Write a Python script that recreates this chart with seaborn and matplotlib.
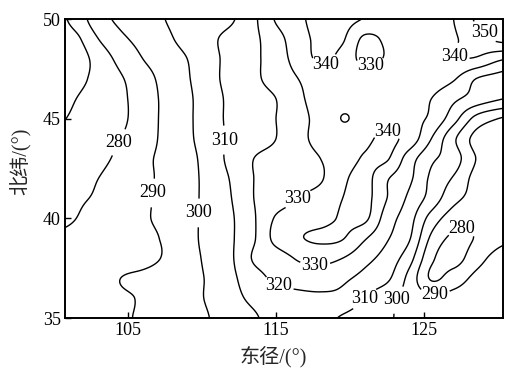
import numpy as np
import matplotlib
matplotlib.use("Agg")
import matplotlib.pyplot as plt
import seaborn as sns

# grid nodes of the field (degrees)
lon_nodes = [100.0, 101.5, 103.0, 104.5, 106.0, 107.5, 109.0, 110.5, 112.0, 113.5, 115.0,
             116.5, 118.0, 119.5, 121.0, 122.5, 124.0, 125.5, 127.0, 128.5, 130.0, 131.5]
lat_nodes = [35, 36, 37, 38, 39, 40, 41, 42, 43, 44, 45, 46, 47, 48, 49, 50]

# field values along each latitude, west to east
t35 = [285, 286, 287, 289, 291, 294, 297, 300, 305, 309, 313, 315, 313, 309, 305, 301, 298, 296, 295, 295, 296, 297]
t36 = [285, 286, 288, 289, 291, 296, 298, 301, 307, 312, 315, 317, 318, 317, 310, 303, 297, 292, 293, 294, 296, 297]
t37 = [284, 286, 287, 290, 292, 295, 298, 301, 308, 316, 322, 325, 325, 322, 317, 312, 297, 279, 285, 292, 295, 297]
t38 = [282, 283, 284, 286, 287, 291, 297, 302, 309, 321, 325, 331, 333, 330, 323, 316, 304, 282, 276, 286, 293, 295]
t39 = [281, 282, 283, 285, 288, 291, 297, 303, 309, 319, 333, 339, 341.5, 340.5, 331, 321, 311, 288, 278, 280.5, 287, 290]
t40 = [278, 280, 283, 286, 289, 292, 297, 303, 309, 319, 331, 335, 337, 341, 342, 325, 314, 296, 285, 283, 285, 286]
t41 = [277, 279, 281, 285, 288, 293, 297, 303, 310, 320, 325, 330, 334, 340, 343, 330, 318, 306, 293, 287, 285, 284]
t42 = [276, 278, 280, 284, 288, 292, 297, 303, 311, 320, 323, 326, 329, 338, 343, 331, 322, 308, 299, 287, 284, 283]
t43 = [273, 276, 278, 282, 288, 292, 297, 304, 313, 320, 323, 326, 330, 335, 341, 341, 325, 312, 305, 290, 284, 282]
t44 = [272, 274, 277, 280, 286, 292, 298, 305, 312, 316, 320, 327, 333, 336, 338, 342, 336, 320, 302, 287, 284, 282]
t45 = [268, 272, 275, 278, 285, 292, 298, 306, 312, 316, 320, 327, 333, 340.25, 337, 336, 333, 328, 314, 297, 290, 287]
t46 = [264, 270, 274, 278, 285, 292, 298, 306, 312, 316, 320, 328, 334, 337, 338, 337, 335, 330, 322, 316, 311, 308]
t47 = [262, 267, 273, 279, 286, 293, 299, 307, 313, 318, 324, 330, 335, 337, 337, 337, 337, 335, 331, 320, 316, 313]
t48 = [263, 265, 274, 283, 290, 295, 300, 307, 313, 318, 325, 334, 341.5, 337, 327, 331, 334, 336, 339.5, 339, 332, 328]
t49 = [264, 268, 280, 288, 293, 298, 303, 308, 313, 318, 326, 336, 342, 341, 328, 332, 336, 337, 339, 345, 352, 354]
t50 = [266, 274, 286, 292, 296, 300, 303, 306, 309, 318, 331, 338, 343, 343, 339.5, 336, 336, 337, 340, 351, 353, 355]

levels = [270, 280, 290, 300, 310, 320, 330, 340, 350]

# where each contour carries its value label (lon, lat)
label_spots = [(104.46, 43.78), (106.69, 41.27), (109.73, 40.27), (111.35, 43.93),
               (118.45, 47.34), (121.35, 47.75), (122.57, 44.58), (126.28, 47.79),
               (128.65, 49.10), (116.42, 41.02), (117.64, 37.76), (115.14, 36.56),
               (120.68, 36.15), (122.90, 36.00), (125.74, 36.25), (127.57, 39.52)]

x_ticks = [105, 115, 125]
y_ticks = [35, 40, 45, 50]
x_title = "东径/(°)"
y_title = "北纬/(°)"


def catmull_rom(n_in, n_out):
    """Resampling matrix for a smooth cubic curve through the nodes."""
    pos = np.linspace(0, n_in - 1, n_out)
    i0 = np.clip(np.floor(pos).astype(int), 0, n_in - 2)
    t = pos - i0
    coefs = [-0.5 * t**3 + t**2 - 0.5 * t,
             1.5 * t**3 - 2.5 * t**2 + 1,
             -1.5 * t**3 + 2 * t**2 + 0.5 * t,
             0.5 * t**3 - 0.5 * t**2]
    w = np.zeros((n_out, n_in))
    rows = np.arange(n_out)
    for k, c in zip(range(-1, 3), coefs):
        np.add.at(w, (rows, np.clip(i0 + k, 0, n_in - 1)), c)
    return w


grid = np.array([t35, t36, t37, t38, t39, t40, t41, t42, t43, t44, t45, t46, t47, t48, t49, t50], float)
nx, ny = 316, 226
fine = catmull_rom(len(lat_nodes), ny) @ grid @ catmull_rom(len(lon_nodes), nx).T
lon_f = np.linspace(lon_nodes[0], lon_nodes[-1], nx)
lat_f = np.linspace(lat_nodes[0], lat_nodes[-1], ny)

sns.set_theme(style="ticks")
plt.rcParams["font.family"] = ["Liberation Serif", "Noto Sans CJK SC"]
plt.rcParams["axes.unicode_minus"] = False

fig = plt.figure(figsize=(5.05, 3.69), dpi=100)
ax = fig.add_axes([65 / 505, 51 / 369, 438 / 505, 299 / 369])

cs = ax.contour(lon_f, lat_f, fine, levels=levels, colors="black", linewidths=1.0)
texts = ax.clabel(cs, fmt="%d", manual=label_spots, inline=True, inline_spacing=1, fontsize=13)
for t in texts:
    t.set_rotation(0)

ax.set_xlim(100.74, 130.34)
ax.set_ylim(35, 50)
ax.set_xticks(x_ticks)
ax.set_yticks(y_ticks)
ax.tick_params(direction="in", length=4, width=1, labelsize=13, colors="black", pad=3)
for s in ax.spines.values():
    s.set_color("black")
    s.set_linewidth(1.4)

fig.text(273 / 505, 1 - 357 / 369, x_title, ha="center", va="center", fontsize=14.5)
fig.text(20 / 505, 1 - 161 / 369, y_title, ha="center", va="center", rotation=90, fontsize=14.5)

fig.savefig("out.png", dpi=100, facecolor="white")
